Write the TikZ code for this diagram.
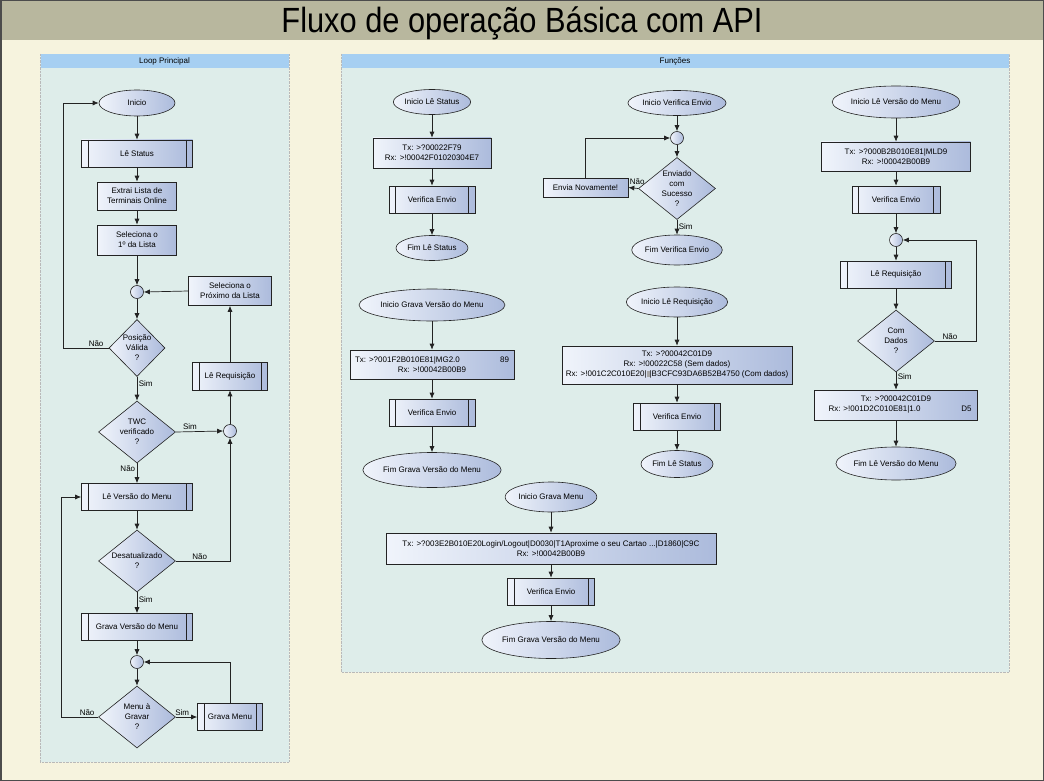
\documentclass[tikz,border=0pt]{standalone}
\usepackage{fontspec}
\setmainfont{Liberation Sans}
\newfontfamily\titlefont[FakeStretch=0.88]{Liberation Sans}
\usetikzlibrary{shapes.geometric, arrows.meta}

\definecolor{bgcol}{RGB}{246,243,222}
\definecolor{bandcol}{RGB}{184,183,158}
\definecolor{panelcol}{RGB}{222,237,234}
\definecolor{headcol}{RGB}{166,207,242}
\definecolor{linecol}{RGB}{35,35,35}
\definecolor{nodeL}{RGB}{240,244,251}
\definecolor{nodeR}{RGB}{172,187,220}

\tikzset{
  base/.style={draw=linecol, line width=0.6pt, left color=nodeL, right color=nodeR,
    font=\fontsize{8}{10}\selectfont, align=center, inner sep=0pt},
  proc/.style={base, rectangle},
  subproc/.style={proc, path picture={
      \draw[linecol, line width=0.6pt] ([xshift=6.5pt]path picture bounding box.north west)
        -- ([xshift=6.5pt]path picture bounding box.south west);
      \draw[linecol, line width=0.6pt] ([xshift=-6.5pt]path picture bounding box.north east)
        -- ([xshift=-6.5pt]path picture bounding box.south east);}},
  term/.style={base, ellipse},
  decision/.style={base, diamond, aspect=1.25, minimum width=77pt, minimum height=62pt},
  junc/.style={base, circle, minimum size=13pt},
  flow/.style={draw=linecol, line width=0.7pt, arrows={-Latex[length=6pt, width=5pt]}},
  lbl/.style={font=\fontsize{8}{10}\selectfont, inner sep=1.5pt},
  panel/.style={fill=panelcol, draw=gray!55, densely dotted},
  head/.style={fill=headcol},
}

\begin{document}
\begin{tikzpicture}[x=1pt, y=-1pt]

  % Background and title band
  \useasboundingbox (0,0) rectangle (1044,781);
  \fill[bgcol] (0,0) rectangle (1044,781);
  \fill[bandcol] (0,0) rectangle (1044,40);
  \draw[line width=1.5pt, black!70] (0.75,0.75) rectangle (1043.25,780.25);
  \node (title) at (522,23.5) {\titlefont\fontsize{35}{37}\selectfont Fluxo de operação Básica com API};

  % Loop Principal frame
  \draw[panel] (40,54) rectangle (289,762);
  \fill[head] (40.5,54.5) rectangle (288.5,68);
  \node[lbl] (hloop) at (164.5,61.5) {Loop Principal};

  % Funções frame
  \draw[panel] (341,54) rectangle (1009,672);
  \fill[head] (341.5,54.5) rectangle (1008.5,68);
  \node[lbl] (hfunc) at (675,61.5) {Funções};

  \def \xL {137}
  \def \xR {230}

  % Loop Principal nodes
  \node[term, minimum width=76pt, minimum height=26pt] (ini) at (\xL,103) {Inicio};
  \node[subproc, minimum width=111pt, minimum height=27pt] (lest) at (\xL,153.5) {Lê Status};
  \node[proc, minimum width=79pt, minimum height=28pt] (extr) at (\xL,196) {Extrai Lista de\\Terminais Online};
  \node[proc, minimum width=79pt, minimum height=30pt] (sel1) at (\xL,240) {Seleciona o\\1º da Lista};
  \node[junc] (j1) at (\xL,292) {};
  \node[proc, minimum width=83pt, minimum height=29pt] (selp) at (\xR,291) {Seleciona o\\Próximo da Lista};
  \node[decision, aspect=1, minimum width=56pt, minimum height=57pt] (posv) at (\xL,348) {Posição\\Válida\\?};
  \node[subproc, minimum width=75pt, minimum height=28pt] (lreq) at (\xR,376) {Lê Requisição};
  \node[decision] (twc) at (\xL,432) {TWC\\verificado\\?};
  \node[junc] (j2) at (\xR,431) {};
  \node[subproc, minimum width=111pt, minimum height=27pt] (lvm) at (\xL,497) {Lê Versão do Menu};
  \node[decision] (desat) at (\xL,561) {Desatualizado\\?};
  \node[subproc, minimum width=111pt, minimum height=27pt] (gvm) at (\xL,627) {Grava Versão do Menu};
  \node[junc] (j3) at (\xL,662) {};
  \node[decision] (mag) at (\xL,717) {Menu à\\Gravar\\?};
  \node[subproc, minimum width=65pt, minimum height=27pt] (gmen) at (\xR,717) {Grava Menu};

  % Loop Principal lines
  \draw[flow] (ini) -- (lest);
  \draw[flow] (lest) -- (extr);
  \draw[flow] (extr) -- (sel1);
  \draw[flow] (sel1) -- (j1);
  \draw[flow] (j1) -- (posv);
  \draw[flow] (posv.west) -- node[lbl, above, pos=0.28] {Não} ++(-45,0) |- (ini.west);
  \draw[flow] (posv.south) -- node[lbl, right, pos=0.3] {Sim} (twc.north);
  \draw[flow] (twc.east) -- node[lbl, above, pos=0.3] {Sim} (j2.west);
  \draw[flow] (twc.south) -- node[lbl, left, pos=0.25] {Não} (lvm.north);
  \draw[flow] (j2) -- (lreq);
  \draw[flow] (lreq) -- (selp);
  \draw[flow] (selp.west) -- (j1.east);
  \draw[flow] (lvm) -- (desat);
  \draw[flow] (desat.east) -| node[lbl, above, pos=0.22] {Não} (j2.south);
  \draw[flow] (desat.south) -- node[lbl, right, pos=0.33] {Sim} (gvm.north);
  \draw[flow] (gvm) -- (j3);
  \draw[flow] (j3) -- (mag);
  \draw[flow] (mag.east) -- node[lbl, above, pos=0.3] {Sim} (gmen.west);
  \draw[flow] (gmen.north) |- (j3.east);
  \draw[flow] (mag.west) -- node[lbl, above, pos=0.3] {Não} ++(-37,0) |- (lvm.west);

  % Funções: Lê Status and Grava Versão do Menu
  \def \xA {432}
  \node[term, minimum width=72pt, minimum height=25pt] (ils) at (\xA,102) {Inicio Lê Status};
  \node[proc, minimum width=118pt, minimum height=30pt] (tx1) at (\xA,153) {Tx: >?00022F79\\Rx: >!00042F01020304E7};
  \node[subproc, minimum width=86pt, minimum height=27pt] (ve1) at (\xA,199.5) {Verifica Envio};
  \node[term, minimum width=72pt, minimum height=25pt] (fls) at (\xA,248) {Fim Lê Status};
  \node[term, minimum width=116pt, minimum height=32pt] (igvm) at (\xA,305) {Inicio Grava Versão do Menu};
  \node[proc, minimum width=164pt, minimum height=29pt] (tx2) at (\xA,364.5)
    {\makebox[154pt]{Tx: >?001F2B010E81|MG2.0\hfill 89}\\Rx: >!00042B00B9};
  \node[subproc, minimum width=86pt, minimum height=27pt] (ve2) at (\xA,412.5) {Verifica Envio};
  \node[term, minimum width=110pt, minimum height=35pt] (fgvm) at (\xA,470) {Fim Grava Versão do Menu};

  \draw[flow] (ils) -- (tx1);
  \draw[flow] (tx1) -- (ve1);
  \draw[flow] (ve1) -- (fls);
  \draw[flow] (igvm) -- (tx2);
  \draw[flow] (tx2) -- (ve2);
  \draw[flow] (ve2) -- (fgvm);

  % Funções: Verifica Envio and Lê Requisição
  \def \xB {677}
  \node[term, minimum width=84pt, minimum height=25pt] (ive) at (\xB,103) {Inicio Verifica Envio};
  \node[junc] (j4) at (\xB,138) {};
  \node[decision] (env) at (\xB,188.5) {Enviado\\com\\Sucesso\\?};
  \node[proc, minimum width=85pt, minimum height=19pt] (envn) at (585.5,187.5) {Envia Novamente!};
  \node[term, minimum width=72pt, minimum height=30pt] (fve) at (\xB,250) {Fim Verifica Envio};
  \node[term, minimum width=78pt, minimum height=30pt] (ilr) at (\xB,302) {Inicio Lê Requisição};
  \node[proc, minimum width=230pt, minimum height=38pt] (tx3) at (\xB,365)
    {Tx: >?00042C01D9\\Rx: >!00022C58 (Sem dados)\\
     Rx: >!001C2C010E20|\textcolor{gray!70}{\rule[-0.5pt]{3pt}{6.5pt}}|B3CFC93DA6B52B4750 (Com dados)};
  \node[subproc, minimum width=87pt, minimum height=27pt] (ve3) at (\xB,416.5) {Verifica Envio};
  \node[term, minimum width=72pt, minimum height=27pt] (flst) at (\xB,464) {Fim Lê Status};

  \draw[flow] (ive) -- (j4);
  \draw[flow] (j4) -- (env);
  \draw[flow] (env.west) -- node[lbl, above, pos=0.1, yshift=2pt] {Não} (envn.east);
  \draw[flow] (envn.north) |- (j4.west);
  \draw[flow] (env.south) -- node[lbl, right, pos=0.45] {Sim} (fve.north);
  \draw[flow] (ilr) -- (tx3);
  \draw[flow] (tx3) -- (ve3);
  \draw[flow] (ve3) -- (flst);

  % Funções: Lê Versão do Menu
  \def \xC {896}
  \node[term, minimum width=110pt, minimum height=32pt] (ilvm) at (\xC,102) {Inicio Lê Versão do Menu};
  \node[proc, minimum width=149pt, minimum height=29pt] (tx4) at (\xC,156.5) {Tx: >?000B2B010E81|MLD9\\Rx: >!00042B00B9};
  \node[subproc, minimum width=88pt, minimum height=27pt] (ve4) at (\xC,199.5) {Verifica Envio};
  \node[junc] (j5) at (\xC,240) {};
  \node[subproc, minimum width=111pt, minimum height=27pt] (lr2) at (\xC,274.5) {Lê Requisição};
  \node[decision] (cd) at (\xC,341) {Com\\Dados\\?};
  \node[proc, minimum width=163pt, minimum height=30pt] (tx5) at (\xC,405)
    {Tx: >?00042C01D9\\\hspace*{8pt}\makebox[143pt]{Rx: >!001D2C010E81|1.0\hfill D5}};
  \node[term, minimum width=110pt, minimum height=33pt] (flvm) at (\xC,463.5) {Fim Lê Versão do Menu};

  \draw[flow] (ilvm) -- (tx4);
  \draw[flow] (tx4) -- (ve4);
  \draw[flow] (ve4) -- (j5);
  \draw[flow] (j5) -- (lr2);
  \draw[flow] (lr2) -- (cd);
  \draw[flow] (cd.east) -- node[lbl, above, pos=0.36] {Não} ++(42,0) |- (j5.east);
  \draw[flow] (cd.south) -- node[lbl, right, pos=0.25] {Sim} (tx5.north);
  \draw[flow] (tx5) -- (flvm);

  % Funções: Grava Menu
  \def \xD {551}
  \node[term, minimum width=89pt, minimum height=30pt] (igm) at (\xD,497) {Inicio Grava Menu};
  \node[proc, minimum width=330pt, minimum height=31pt] (tx6) at (\xD,548.5)
    {Tx: >?003E2B010E20Login/Logout|D0030|T1Aproxime o seu Cartao ...|D1860|C9C\\Rx: >!00042B00B9};
  \node[subproc, minimum width=87pt, minimum height=27pt] (ve5) at (\xD,591.5) {Verifica Envio};
  \node[term, minimum width=108pt, minimum height=37pt] (fgm) at (\xD,640) {Fim Grava Versão do Menu};

  \draw[flow] (igm) -- (tx6);
  \draw[flow] (tx6) -- (ve5);
  \draw[flow] (ve5) -- (fgm);

\end{tikzpicture}
\end{document}
